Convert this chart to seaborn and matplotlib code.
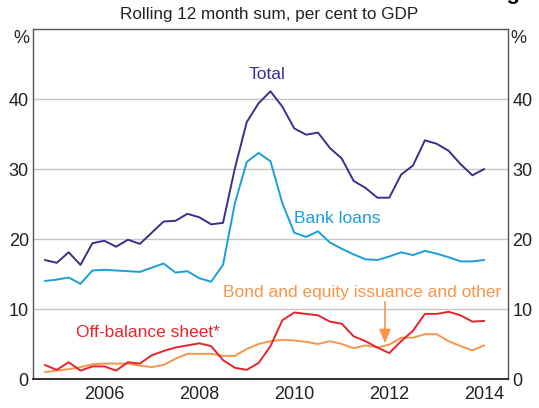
import pandas as pd
import matplotlib
matplotlib.use("Agg")
import matplotlib.pyplot as plt
import seaborn as sns

# Quarterly, rolling 12 month sums, per cent of GDP
quarters = pd.period_range("2005Q1", "2014Q2", freq="Q")

total = [17.0, 16.6, 18.1, 16.3, 19.4, 19.75, 18.9, 19.9, 19.3, 20.9,
         22.5, 22.6, 23.6, 23.1, 22.1, 22.3, 30.1, 36.7, 39.4, 41.1,
         38.9, 35.8, 34.9, 35.2, 33.0, 31.5, 28.3, 27.3, 25.9, 25.9,
         29.2, 30.5, 34.1, 33.6, 32.6, 30.7, 29.1, 30.0]
bank_loans = [14.0, 14.2, 14.5, 13.6, 15.5, 15.6, 15.5, 15.4, 15.3, 15.9,
              16.5, 15.2, 15.4, 14.4, 13.9, 16.3, 25.1, 31.0, 32.3, 31.1,
              25.1, 20.9, 20.3, 21.1, 19.5, 18.6, 17.8, 17.1, 17.0, 17.5,
              18.1, 17.7, 18.3, 17.9, 17.4, 16.8, 16.8, 17.0]
off_balance = [2.0, 1.3, 2.4, 1.2, 1.8, 1.8, 1.2, 2.4, 2.2, 3.4,
               4.0, 4.5, 4.8, 5.1, 4.7, 2.7, 1.6, 1.3, 2.3, 4.7,
               8.4, 9.5, 9.3, 9.1, 8.2, 7.9, 6.1, 5.4, 4.5, 3.7,
               5.4, 6.9, 9.3, 9.3, 9.6, 9.1, 8.2, 8.3]
bond_equity = [1.0, 1.2, 1.4, 1.7, 2.1, 2.2, 2.2, 2.2, 1.9, 1.7,
               2.0, 2.9, 3.6, 3.6, 3.6, 3.3, 3.3, 4.3, 5.0, 5.4,
               5.6, 5.5, 5.3, 5.0, 5.4, 5.0, 4.4, 4.8, 4.5, 4.9,
               5.9, 5.9, 6.4, 6.4, 5.4, 4.7, 4.1, 4.8]

year_ticks = list(range(2006, 2015))
year_labels = ["2006", "2008", "2010", "2012", "2014"]

colors = {
    "Bond and equity issuance and other": "#f7954a",
    "Off-balance sheet*": "#e4262c",
    "Bank loans": "#1a9fdb",
    "Total": "#3d2e8c",
}
grey_text = "#222222"

# plot quarter at end of the period
dates = [p.year + p.quarter / 4 for p in quarters]
df = pd.DataFrame({
    "date": dates,
    "Bond and equity issuance and other": bond_equity,
    "Off-balance sheet*": off_balance,
    "Bank loans": bank_loans,
    "Total": total,
})
long_df = df.melt(id_vars="date", var_name="series", value_name="value")

sns.set_style("white")
plt.rcParams["font.family"] = ["Liberation Sans", "DejaVu Sans"]

fig = plt.figure(figsize=(5.39, 4.08), dpi=100)
ax = fig.add_axes([33 / 539, 1 - 379 / 408, 475 / 539, 350 / 408])

sns.lineplot(data=long_df, x="date", y="value", hue="series",
             hue_order=list(colors.keys()), palette=colors,
             linewidth=1.4, legend=False, ax=ax)

ax.set_xlim(2005, 2015)
ax.set_ylim(0, 50)
ax.set_xlabel("")
ax.set_ylabel("")

# y axis: labels both sides, no tick marks, grid lines
ax.set_yticks([0, 10, 20, 30, 40])
ax.set_yticklabels(["0", "10", "20", "30", "40"])
ax.tick_params(axis="y", length=0, pad=3, labelsize=13, labelcolor=grey_text,
               labelleft=True, labelright=True)
for v in [10, 20, 30, 40]:
    ax.axhline(v, color="#c6c6c6", lw=1.0, zorder=0)

# x axis: ticks at year starts, labels mid-year
ax.set_xticks(year_ticks)
ax.set_xticklabels([""] * len(year_ticks))
ax.tick_params(axis="x", which="major", direction="in", length=7,
               width=1.0, color="#555555")
ax.set_xticks([int(y) + 0.5 for y in year_labels], minor=True)
ax.set_xticklabels(year_labels, minor=True)
ax.tick_params(axis="x", which="minor", length=0, pad=5, labelsize=13,
               labelcolor=grey_text)

for side in ["left", "right", "top", "bottom"]:
    ax.spines[side].set_visible(True)
    ax.spines[side].set_color("#555555")
    ax.spines[side].set_linewidth(1.0)
ax.spines["bottom"].set_color("#222222")
ax.spines["bottom"].set_linewidth(1.3)

# unit labels
ax.text(-0.008, 48.7, "%", transform=ax.get_yaxis_transform(), ha="right",
        va="center", fontsize=13, color=grey_text)
ax.text(1.006, 48.7, "%", transform=ax.get_yaxis_transform(), ha="left",
        va="center", fontsize=13, color=grey_text)

# series labels
ax.text(2009.93, 43.5, "Total", ha="center", va="center", fontsize=12.5,
        color=colors["Total"])
ax.text(2010.49, 22.9, "Bank loans", ha="left", va="center", fontsize=12.5,
        color=colors["Bank loans"])
ax.text(2007.43, 6.7, "Off-balance sheet*", ha="center", va="center",
        fontsize=12.5, color=colors["Off-balance sheet*"])
ax.text(2014.86, 12.3, "Bond and equity issuance and other", ha="right",
        va="center", fontsize=12.5,
        color=colors["Bond and equity issuance and other"])
ax.annotate("", xy=(2012.41, 5.1), xytext=(2012.41, 11.0),
            arrowprops=dict(arrowstyle="-|>,head_width=0.25,head_length=0.6",
                            color=colors["Bond and equity issuance and other"],
                            lw=1.2, shrinkA=0, shrinkB=0, mutation_scale=14))

# titles
fig.text(0.5, 1 - 14 / 408, "Rolling 12 month sum, per cent to GDP",
         ha="center", va="center", fontsize=12.3, color=grey_text)
fig.text(0.965, 1 + 1.5 / 408, "China: Total Social Financing", ha="right",
         va="baseline", fontsize=16, fontweight="bold", color="#111111")

fig.savefig("out.png", dpi=100)
